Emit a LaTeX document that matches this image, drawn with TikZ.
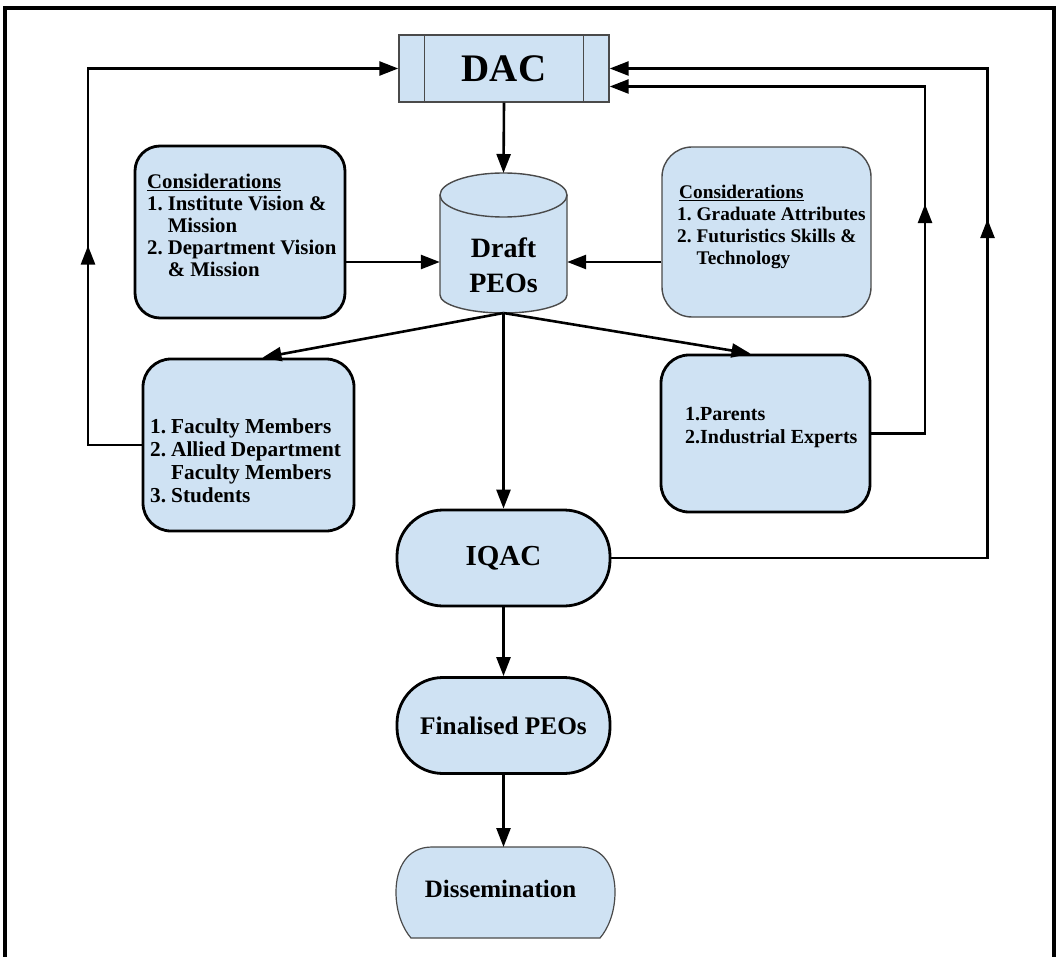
\documentclass[tikz,border=0pt]{standalone}
\usepackage{fontspec}
\setmainfont{Liberation Serif}
\usetikzlibrary{arrows.meta,decorations.markings}
\definecolor{boxblue}{HTML}{CFE2F3}
\definecolor{thinline}{HTML}{4A4A4A}
\begin{document}
\begin{tikzpicture}[x=1pt,y=-1pt,
  box/.style={draw, line width=2.8pt, fill=boxblue, rounded corners=26pt, inner sep=0pt},
  thinbox/.style={draw=thinline, line width=1.4pt, fill=boxblue, inner sep=0pt},
  stadium/.style={draw, line width=2.8pt, fill=boxblue, rounded corners=46pt, inner sep=0pt, minimum width=213pt, minimum height=96pt, font=\bfseries\fontsize{25.3}{30}\selectfont},
  conn/.style={line width=2.6pt},
  arr/.style={conn, -{Triangle[length=19pt,width=14pt]}},
  midarr/.style={postaction={decorate}, decoration={markings, mark=at position #1 with {\arrow{Triangle[length=19pt,width=14pt]}}}},
  txt/.style={font=\bfseries\fontsize{20.8}{22}\selectfont, inner sep=0pt, anchor=base west, align=left},
  bigtxt/.style={font=\bfseries\fontsize{28}{35}\selectfont, inner sep=0pt, align=center}
]
\useasboundingbox (0,0) rectangle (1059,957);
% outer frame
\draw[line width=4pt] (5,957) -- (5,8) -- (1054,8) -- (1054,957);

% DAC
\node[thinbox, minimum width=210pt, minimum height=67pt, font=\bfseries\fontsize{39}{42}\selectfont] (dac) at (504,68.5) {DAC};
\draw[thinline, line width=1.4pt] ([xshift=26pt]dac.north west) -- ([xshift=26pt]dac.south west);
\draw[thinline, line width=1.4pt] ([xshift=-26pt]dac.north east) -- ([xshift=-26pt]dac.south east);

% Draft PEOs cylinder
\fill[boxblue] (440,195) -- (440,295) arc[start angle=180, end angle=360, x radius=63.5pt, y radius=18pt] -- (567,195) arc[start angle=0, end angle=180, x radius=63.5pt, y radius=22pt] -- cycle;
\draw[thinline, line width=1.4pt] (440,195) -- (440,295) arc[start angle=180, end angle=360, x radius=63.5pt, y radius=18pt] -- (567,195);
\draw[thinline, line width=1.4pt] (503.5,195) ellipse[x radius=63.5pt, y radius=22pt];
\node[bigtxt, minimum width=127pt] (draft) at (503.5,265) {Draft\\PEOs};
\coordinate (cyltop) at (503.5,173);
\coordinate (cylbot) at (503.5,313);
\coordinate (yl) at (0,262);

% considerations boxes
\node[box, rounded corners=25pt, minimum width=210pt, minimum height=172pt] (lc) at (240,232) {};
\node[txt] (lctext) at (147,189) {\begin{tabular}[t]{@{}l@{\hspace{5pt}}l@{}}
\multicolumn{2}{@{}l@{}}{\underline{Considerations}}\\
1. & Institute Vision \&\\
 & Mission\\
2. & Department Vision\\
 & \& Mission
\end{tabular}};

\node[thinbox, rounded corners=30pt, minimum width=209pt, minimum height=170pt] (rc) at (766.5,232) {};
\node[txt, font=\bfseries\fontsize{19.3}{22}\selectfont] (rctext) at (677,199) {\begin{tabular}[t]{@{}l@{\hspace{5pt}}l@{}}
\multicolumn{2}{@{}l@{}}{\hspace{2pt}\underline{Considerations}}\\
1. & Graduate Attributes\\
2. & Futuristics Skills \&\\
 & Technology
\end{tabular}};

% stakeholder boxes
\node[box, rounded corners=28pt, minimum width=211pt, minimum height=172pt] (ll) at (248.5,445) {};
\node[txt, font=\bfseries\fontsize{21.3}{23}\selectfont] (lltext) at (150,433) {\begin{tabular}[t]{@{}l@{\hspace{5pt}}l@{}}
1. & Faculty Members\\
2. & Allied Department\\
 & Faculty Members\\
3. & Students
\end{tabular}};

\node[box, rounded corners=28pt, minimum width=209pt, minimum height=157pt] (lr) at (765.5,433.5) {};
\node[txt, font=\bfseries\fontsize{20}{23}\selectfont] (lrtext) at (685,443) {1.Parents\\2.Industrial Experts};

% IQAC, Finalised
\node[stadium, font=\bfseries\fontsize{29}{32}\selectfont] (iqac) at (503.5,558) {IQAC};
\node[stadium] (fin) at (503.5,725.5) {Finalised PEOs};

% Dissemination
\draw[thinline, line width=1.2pt, fill=boxblue] (432,847) -- (580,847)
  .. controls (604,847) and (615,868) .. (615,892)
  .. controls (615,914) and (607,930) .. (600,938) -- (411,938)
  .. controls (404,930) and (396,914) .. (396,892)
  .. controls (396,868) and (407,847) .. (432,847) -- cycle;
\node[font=\bfseries\fontsize{25}{30}\selectfont, inner sep=0pt] (diss) at (500.5,889) {Dissemination};
\coordinate (disstop) at (503.5,847);

% connectors
\draw[arr] (dac.south) -- (cyltop);
\draw[arr] (lc.east |- yl) -- (draft.west |- yl);
\draw[arr] (rc.west |- yl) -- (draft.east |- yl);
\draw[arr] (cylbot) -- ([xshift=14pt]ll.north);
\draw[arr] (cylbot) -- ([xshift=-15pt]lr.north);
\draw[arr] (cylbot) -- (iqac.north);
\draw[arr] (iqac.south) -- (fin.north);
\draw[arr] (fin.south) -- (disstop);

\coordinate (lx) at (88,0);
\coordinate (rx) at (925,0);
\coordinate (rrx) at (987.5,0);
\coordinate (dacr2) at ([yshift=-18pt]dac.east);
\draw[arr, midarr=253pt] (ll.west) -| (lx |- dac.west) -- (dac.west);
\draw[arr, midarr=283pt] (lr.east) -| (rx |- dacr2) -- (dacr2);
\draw[arr, midarr=715pt] (iqac.east) -| (rrx |- dac.east) -- (dac.east);
\end{tikzpicture}
\end{document}
